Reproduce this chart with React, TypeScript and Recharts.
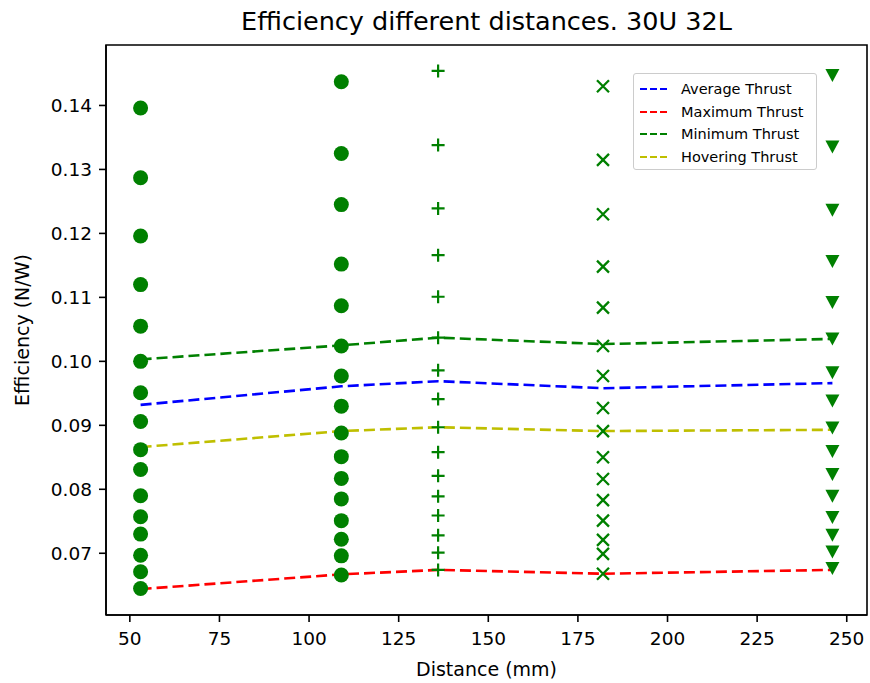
import { ComposedChart, Line, ReferenceArea, Scatter, XAxis, YAxis } from "recharts";

const FONT = "'DejaVu Sans', sans-serif";
const GREEN = "#008000";

const DISTANCES = [53, 109, 136, 182, 246];

// measured efficiency (N/W) at each distance, one list per sweep column
const EFF_53 = [0.1396, 0.1287, 0.1196, 0.112, 0.1055, 0.1, 0.0951, 0.0906, 0.0862, 0.0831, 0.079, 0.0757, 0.073, 0.0697, 0.0671, 0.0645];
const EFF_109 = [0.1437, 0.1325, 0.1245, 0.1152, 0.1087, 0.1024, 0.0977, 0.093, 0.0888, 0.0851, 0.0817, 0.0785, 0.0751, 0.0722, 0.0696, 0.0666];
const EFF_136 = [0.1454, 0.1338, 0.1239, 0.1166, 0.1101, 0.1037, 0.0986, 0.0941, 0.0897, 0.0858, 0.0821, 0.0789, 0.0759, 0.0728, 0.0701, 0.0674];
const EFF_182 = [0.143, 0.1315, 0.123, 0.1148, 0.1084, 0.1024, 0.0977, 0.0927, 0.0891, 0.085, 0.0816, 0.0783, 0.0751, 0.0721, 0.0699, 0.0668];
const EFF_246 = [0.1447, 0.1335, 0.1236, 0.1156, 0.1092, 0.1035, 0.0982, 0.0938, 0.0896, 0.0859, 0.0823, 0.0789, 0.0756, 0.0728, 0.0702, 0.0676];

// summary curves, one value per distance
const AVERAGE = [0.0932, 0.0961, 0.0969, 0.0958, 0.0966];
const MAXIMUM = [0.0644, 0.0667, 0.0674, 0.0668, 0.0674];
const MINIMUM = [0.1003, 0.1025, 0.1037, 0.1027, 0.1035];
const HOVERING = [0.0866, 0.0891, 0.0897, 0.0891, 0.0893];

const X_TICKS = [50, 75, 100, 125, 150, 175, 200, 225, 250];
const Y_TICKS = [0.07, 0.08, 0.09, 0.1, 0.11, 0.12, 0.13, 0.14];

const LINES = [
  { name: "Average Thrust", values: AVERAGE, color: "#0000ff" },
  { name: "Maximum Thrust", values: MAXIMUM, color: "#ff0000" },
  { name: "Minimum Thrust", values: MINIMUM, color: GREEN },
  { name: "Hovering Thrust", values: HOVERING, color: "#bfbf00" },
];

const column = (x: number, ys: number[]) => ys.map((y) => ({ x, y }));
const curve = (ys: number[]) => ys.map((y, i) => ({ x: DISTANCES[i], y }));

// matplotlib-like 5% margins around the data
const allY = [...EFF_53, ...EFF_109, ...EFF_136, ...EFF_182, ...EFF_246, ...MAXIMUM];
const padded = (lo: number, hi: number): [number, number] => {
  const p = (hi - lo) * 0.05;
  return [lo - p, hi + p];
};
const X_DOMAIN = padded(Math.min(...DISTANCES), Math.max(...DISTANCES));
const Y_DOMAIN = padded(Math.min(...allY), Math.max(...allY));

const Dot = ({ cx, cy }: any) => <circle cx={cx} cy={cy} r={7.5} fill={GREEN} />;

const Plus = ({ cx, cy }: any) => (
  <path d={`M${cx - 6.5},${cy}H${cx + 6.5}M${cx},${cy - 6.5}V${cy + 6.5}`} stroke={GREEN} strokeWidth={2.2} />
);

const Cross = ({ cx, cy }: any) => (
  <path
    d={`M${cx - 6},${cy - 6}L${cx + 6},${cy + 6}M${cx - 6},${cy + 6}L${cx + 6},${cy - 6}`}
    stroke={GREEN}
    strokeWidth={2.3}
  />
);

const TriDown = ({ cx, cy }: any) => (
  <polygon points={`${cx - 7},${cy - 6.5} ${cx + 7},${cy - 6.5} ${cx},${cy + 6.5}`} fill={GREEN} />
);

const YTitle = ({ viewBox }: any) => {
  const x = viewBox.x + 22;
  const y = viewBox.y + viewBox.height / 2;
  return (
    <text x={x} y={y} transform={`rotate(-90 ${x} ${y})`} textAnchor="middle" dominantBaseline="central" fontSize={19} fontFamily={FONT} fill="#000">
      Efficiency (N/W)
    </text>
  );
};

const XTitle = ({ viewBox }: any) => (
  <text x={viewBox.x + viewBox.width / 2} y={viewBox.y + 54} textAnchor="middle" dominantBaseline="central" fontSize={19} fontFamily={FONT} fill="#000">
    Distance (mm)
  </text>
);

const tickStyle = { fontSize: 18.5, fontFamily: FONT, fill: "#000" };

export default function App() {
  return (
    <div style={{ position: "absolute", left: 0, top: 0, width: 870, height: 683, background: "#fff" }}>
      <ComposedChart width={870} height={683} margin={{ top: 45, right: 3, bottom: 8, left: 0 }}>
        <XAxis
          dataKey="x"
          type="number"
          domain={X_DOMAIN}
          ticks={X_TICKS}
          allowDataOverflow
          height={60}
          tickSize={7}
          tickMargin={10}
          stroke="#000"
          strokeWidth={1.6}
          tick={tickStyle}
          label={<XTitle />}
        />
        <YAxis
          type="number"
          domain={Y_DOMAIN}
          ticks={Y_TICKS}
          allowDataOverflow
          width={106}
          tickSize={7}
          tickMargin={7}
          stroke="#000"
          strokeWidth={1.6}
          tick={tickStyle}
          tickFormatter={(v: number) => v.toFixed(2)}
          label={<YTitle />}
        />

        {/* axes frame (top and right spines) */}
        <ReferenceArea
          x1={X_DOMAIN[0]}
          x2={X_DOMAIN[1]}
          y1={Y_DOMAIN[0]}
          y2={Y_DOMAIN[1]}
          fill="none"
          fillOpacity={0}
          stroke="#000"
          strokeWidth={1.6}
          strokeOpacity={1}
          ifOverflow="visible"
        />

        <Scatter data={column(DISTANCES[0], EFF_53)} dataKey="y" shape={<Dot />} isAnimationActive={false} />
        <Scatter data={column(DISTANCES[1], EFF_109)} dataKey="y" shape={<Dot />} isAnimationActive={false} />
        <Scatter data={column(DISTANCES[2], EFF_136)} dataKey="y" shape={<Plus />} isAnimationActive={false} />
        <Scatter data={column(DISTANCES[3], EFF_182)} dataKey="y" shape={<Cross />} isAnimationActive={false} />
        <Scatter data={column(DISTANCES[4], EFF_246)} dataKey="y" shape={<TriDown />} isAnimationActive={false} />

        {LINES.map((l) => (
          <Line
            key={l.name}
            data={curve(l.values)}
            dataKey="y"
            name={l.name}
            type="linear"
            stroke={l.color}
            strokeWidth={2.6}
            strokeDasharray="11 5"
            dot={false}
            activeDot={false}
            isAnimationActive={false}
          />
        ))}
      </ComposedChart>

      <div
        style={{
          position: "absolute",
          left: 486.5,
          top: 6,
          transform: "translateX(-50%)",
          whiteSpace: "nowrap",
          fontFamily: FONT,
          fontSize: 25.5,
          color: "#000",
        }}
      >
        Efficiency different distances. 30U 32L
      </div>

      <div
        style={{
          position: "absolute",
          left: 633,
          top: 73,
          width: 184,
          height: 97,
          boxSizing: "border-box",
          border: "1px solid #cccccc",
          borderRadius: 3,
          background: "rgba(255,255,255,0.8)",
          fontFamily: FONT,
          fontSize: 14.5,
          color: "#000",
        }}
      >
        {LINES.map((l, i) => (
          <div key={l.name} style={{ position: "absolute", left: 0, top: 4 + i * 22.7, height: 22, display: "flex", alignItems: "center" }}>
            <svg width={47} height={22} style={{ display: "block" }}>
              <line x1={6} y1={11} x2={34} y2={11} stroke={l.color} strokeWidth={1.8} strokeDasharray="7 3" />
            </svg>
            <span style={{ whiteSpace: "nowrap" }}>{l.name}</span>
          </div>
        ))}
      </div>
    </div>
  );
}
